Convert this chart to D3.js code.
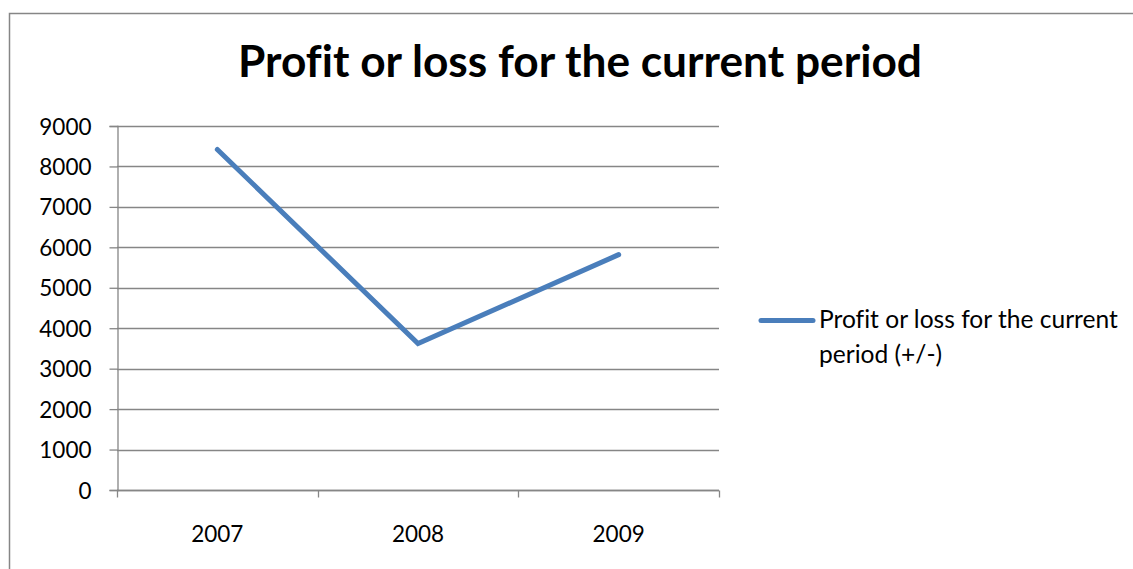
<!DOCTYPE html>
<html>
<head>
<meta charset="utf-8">
<script src="https://cdn.jsdelivr.net/npm/d3@7"></script>
<style>
  html, body { margin: 0; padding: 0; background: #fff; }
  svg { display: block; }
  text { font-family: Lato, "Open Sans", sans-serif; fill: #000; font-variant-ligatures: none; }
</style>
</head>
<body>
<svg id="chart" width="1133" height="569"></svg>
<script>
// Chart data
const chartTitle = "Profit or loss for the current period";
const seriesName = "Profit or loss for the current period (+/-)";
const years = ["2007", "2008", "2009"];
const profitValues = [8420, 3620, 5820];
const yTicks = [0, 1000, 2000, 3000, 4000, 5000, 6000, 7000, 8000, 9000];

const svg = d3.select("#chart");
const W = 1133, H = 569;
const plot = { left: 117, right: 719, top: 126, bottom: 490 };
const lineColor = "#4a7ebb";
const gridColor = "#868686";
const labelFont = "Lato, 'Open Sans', sans-serif";

// Scale a text element's font size so it spans the given width
function fitWidth(sel, baseSize, width) {
  sel.style("font-size", baseSize + "px");
  const w = sel.node().getComputedTextLength();
  sel.style("font-size", (baseSize * width / w) + "px");
}

// Outer chart frame (runs past the right and bottom edges)
svg.append("rect")
  .attr("x", 9.5).attr("y", 13.5)
  .attr("width", W + 20).attr("height", H + 20)
  .attr("fill", "#fff")
  .attr("stroke", gridColor).attr("stroke-width", 1.5);

// Title
const title = svg.append("text")
  .attr("x", (238 + 922) / 2).attr("y", 77)
  .attr("text-anchor", "middle")
  .style("font-weight", "bold")
  .text(chartTitle);
fitWidth(title, 36, 684);

const x = d3.scaleBand().domain(years).range([plot.left, plot.right]).padding(0);
const y = d3.scaleLinear().domain([0, 9000]).range([plot.bottom, plot.top]);

// Horizontal gridlines
svg.append("g")
  .selectAll("line")
  .data(yTicks)
  .join("line")
  .attr("x1", plot.left).attr("x2", plot.right)
  .attr("y1", d => Math.round(y(d)) + 0.5).attr("y2", d => Math.round(y(d)) + 0.5)
  .attr("stroke", gridColor).attr("stroke-width", 1.3);

// Y axis
const yAxis = svg.append("g")
  .attr("transform", `translate(${plot.left + 0.5},0)`)
  .call(d3.axisLeft(y).tickValues(yTicks).tickSize(8).tickPadding(18).tickFormat(d3.format("d")));
yAxis.select(".domain").attr("stroke", gridColor).attr("stroke-width", 1.3);
yAxis.selectAll(".tick line").attr("stroke", gridColor).attr("stroke-width", 1.3);
yAxis.selectAll(".tick text")
  .style("font-size", "22.5px")
  .style("font-family", labelFont)
  .attr("dy", "0.36em")
  .attr("fill", "#000");

// X axis with ticks between categories
const xAxis = svg.append("g")
  .attr("transform", `translate(0,${Math.round(plot.bottom) + 0.5})`);
xAxis.append("line")
  .attr("x1", plot.left).attr("x2", plot.right)
  .attr("stroke", gridColor).attr("stroke-width", 1.3);
const boundaries = years.map(d => x(d)).concat([x(years[years.length - 1]) + x.bandwidth()]);
xAxis.selectAll("line.tick")
  .data(boundaries)
  .join("line")
  .attr("class", "tick")
  .attr("x1", d => Math.round(d) + 0.5).attr("x2", d => Math.round(d) + 0.5)
  .attr("y1", 0).attr("y2", 7)
  .attr("stroke", gridColor).attr("stroke-width", 1.3);
xAxis.selectAll("text")
  .data(years)
  .join("text")
  .attr("x", d => x(d) + x.bandwidth() / 2)
  .attr("y", 51)
  .attr("text-anchor", "middle")
  .style("font-size", "22.5px")
  .text(d => d);

// Series line
const line = d3.line()
  .x((d, i) => x(years[i]) + x.bandwidth() / 2)
  .y(d => y(d));
svg.append("path")
  .datum(profitValues)
  .attr("d", line)
  .attr("fill", "none")
  .attr("stroke", lineColor)
  .attr("stroke-width", 5)
  .attr("stroke-linecap", "round")
  .attr("stroke-linejoin", "miter");

// Legend
const legend = svg.append("g");
legend.append("line")
  .attr("x1", 761).attr("x2", 813)
  .attr("y1", 320.5).attr("y2", 320.5)
  .attr("stroke", lineColor).attr("stroke-width", 5)
  .attr("stroke-linecap", "round");
const words = seriesName.split(" ");
const lines = [words.slice(0, 6).join(" "), words.slice(6).join(" ")];
const legendText = legend.selectAll("text")
  .data(lines)
  .join("text")
  .attr("x", 819)
  .attr("y", (d, i) => 328 + i * 34.5)
  .text(d => d);
// Size both legend lines together from the width of the first
fitWidth(legendText.filter((d, i) => i === 0), 22, 299);
legendText.style("font-size", legendText.filter((d, i) => i === 0).style("font-size"));
</script>
</body>
</html>
